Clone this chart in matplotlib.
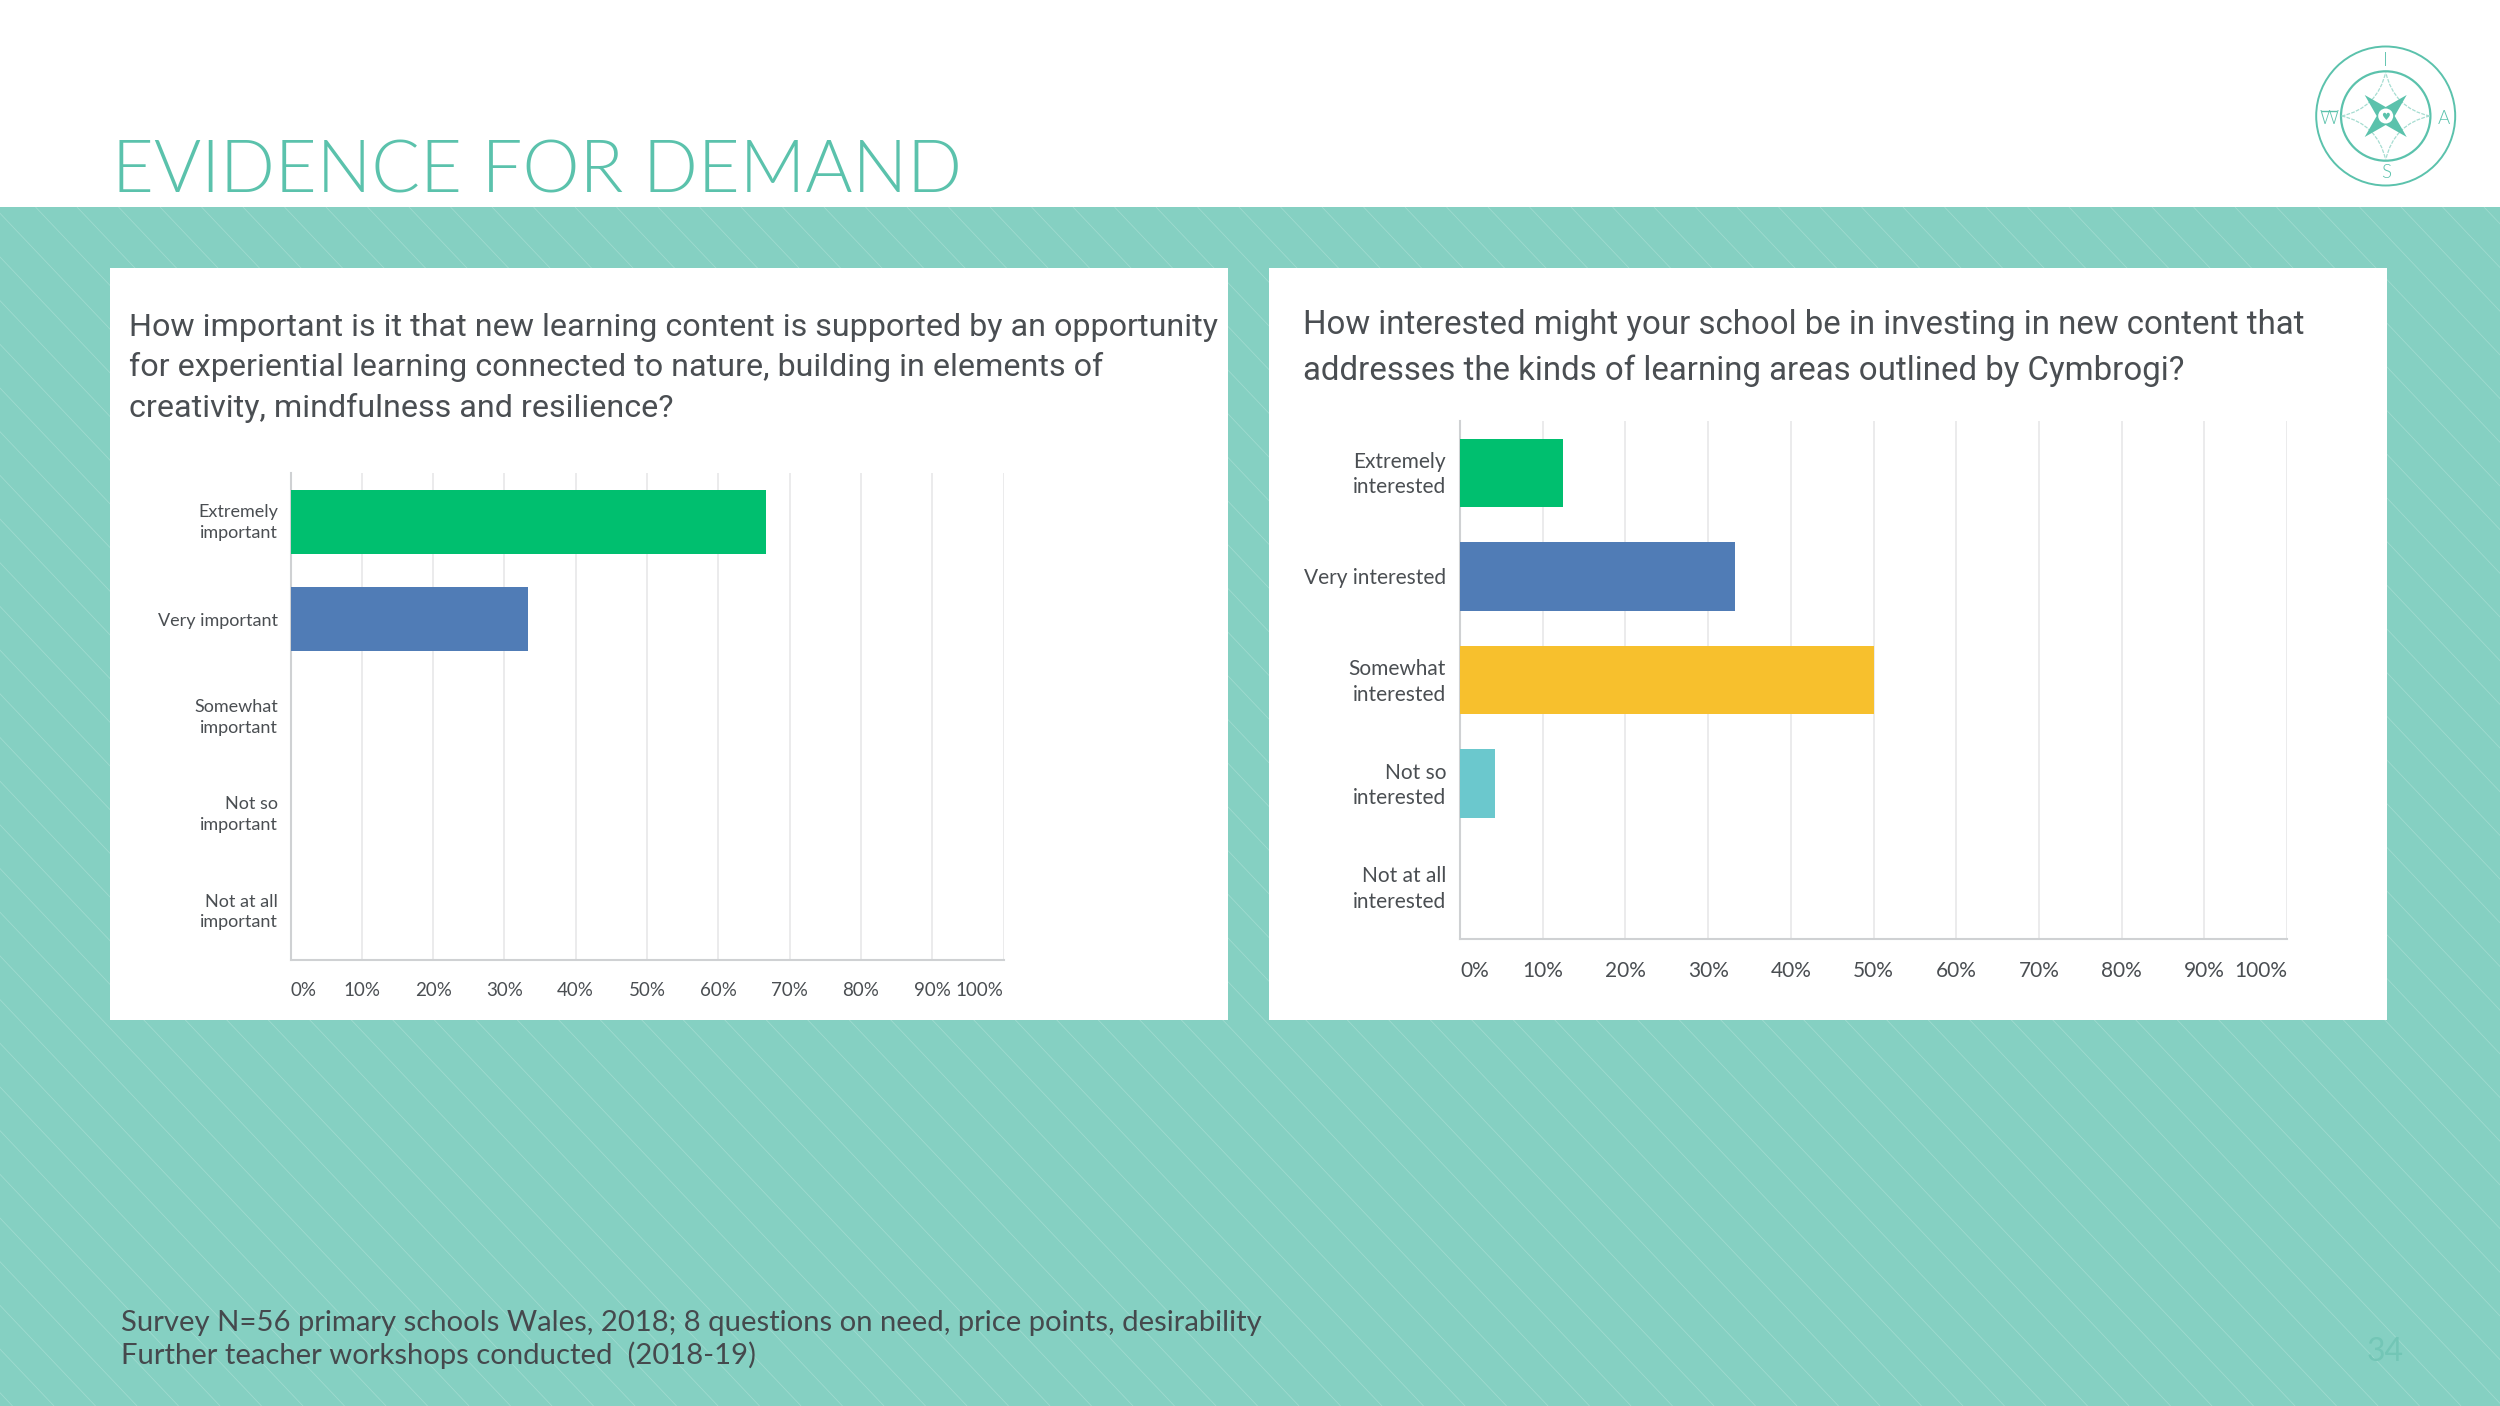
import numpy as np
import matplotlib
matplotlib.use("Agg")
import matplotlib.pyplot as plt
from matplotlib.patches import Circle, Polygon, Rectangle, PathPatch
from matplotlib.path import Path
from matplotlib.collections import LineCollection
from matplotlib.transforms import ScaledTranslation

W, H = 2500, 1406

title_text = "EVIDENCE FOR DEMAND"
footnote_lines = ["Survey N=56 primary schools Wales, 2018; 8 questions on need, price points, desirability",
                  "Further teacher workshops conducted  (2018-19)"]
page_number = "34"

question_left = ["How important is it that new learning content is supported by an opportunity",
                 "for experiential learning connected to nature, building in elements of",
                 "creativity, mindfulness and resilience?"]
question_right = ["How interested might your school be in investing in new content that",
                  "addresses the kinds of learning areas outlined by Cymbrogi?"]

labels_left = ["Extremely\nimportant", "Very important", "Somewhat\nimportant", "Not so\nimportant", "Not at all\nimportant"]
values_left = [66.7, 33.3, 0, 0, 0]
labels_right = ["Extremely\ninterested", "Very interested", "Somewhat\ninterested", "Not so\ninterested", "Not at all\ninterested"]
values_right = [12.5, 33.3, 50.0, 4.2, 0]
bar_colors = ["#00BF6F", "#507CB6", "#F7C02D", "#6BC8CD", "#AC71AE"]
pct_ticks = [0, 10, 20, 30, 40, 50, 60, 70, 80, 90, 100]

TEAL = "#85D0C2"
ACCENT = "#5BC2AC"
DARK = "#45494D"
CHART_TEXT = "#4A4E52"
QUESTION_FONT = ['Roboto', 'DejaVu Sans']

plt.rcParams['font.family'] = ['Lato', 'DejaVu Sans']

fig = plt.figure(figsize=(W / 100, H / 100), dpi=100, facecolor="white")

# page layer in pixel coordinates
bg = fig.add_axes([0, 0, 1, 1], zorder=0)
bg.set_xlim(0, W)
bg.set_ylim(H, 0)
bg.axis("off")

bg.add_patch(Rectangle((0, 207), W, H - 207, facecolor=TEAL, edgecolor="none", zorder=1))

# faint diagonal pinstripes
starts = np.arange(-1500, W, 41.5)
segs = [[(s, 207), (s + (H - 207) * 0.95, H)] for s in starts]
bg.add_collection(LineCollection(segs, colors="#9FDBCF", linewidths=0.6, zorder=2))
bg.set_xlim(0, W)
bg.set_ylim(H, 0)
bg.add_patch(Rectangle((0, 0), W, 207, facecolor="white", edgecolor="none", zorder=3))

bg.add_patch(Rectangle((110, 268), 1118, 752, facecolor="white", edgecolor="none", zorder=4))
bg.add_patch(Rectangle((1269, 268), 1118, 752, facecolor="white", edgecolor="none", zorder=4))

bg.text(112, 172, title_text, color=ACCENT, fontsize=52, fontweight=300, va="center", ha="left", zorder=5)

for i, line in enumerate(footnote_lines):
    bg.text(121, 1322.5 + i * 33, line, color=DARK, fontsize=21.05, va="center", ha="left", zorder=5)
bg.text(2385, 1352, page_number, color="#73C6B6", fontsize=23, va="center", ha="center", zorder=5)

for i, line in enumerate(question_left):
    bg.text(129, 327 + i * 40.5, line, color=CHART_TEXT, fontsize=23.2, family=QUESTION_FONT, va="center", ha="left", zorder=5)
for i, line in enumerate(question_right):
    bg.text(1303, 325 + i * 45.5, line, color=CHART_TEXT, fontsize=23.8, family=QUESTION_FONT, va="center", ha="left", zorder=5)

# compass logo
cx, cy = 2385.7, 116
bg.add_patch(Circle((cx, cy), 69.5, fill=False, edgecolor=ACCENT, linewidth=1.4, zorder=5))
bg.add_patch(Circle((cx, cy), 44.7, fill=False, edgecolor=ACCENT, linewidth=1.6, zorder=5))
star = [(21, -21), (0, -9), (-21, -21), (-9, 0), (-21, 21), (0, 9), (21, 21), (9, 0)]
bg.add_patch(Polygon([(cx + dx, cy + dy) for dx, dy in star], closed=True, facecolor=ACCENT, edgecolor="none", zorder=6))
for sx, sy in [(1, 1), (1, -1), (-1, 1), (-1, -1)]:
    # dashed curved rays between the compass points
    bg.add_patch(PathPatch(Path([(cx + sx * 44, cy), (cx + sx * 8, cy + sy * 8), (cx, cy + sy * 44)],
                                [Path.MOVETO, Path.CURVE3, Path.CURVE3]),
                           fill=False, edgecolor="#A6DDD1", linewidth=0.9, linestyle=(0, (3, 1)), zorder=5))
bg.add_patch(Circle((cx, cy), 7.5, facecolor="white", edgecolor="none", zorder=7))
bg.text(cx, cy + 0.5, "\u2665", color=ACCENT, fontsize=7, ha="center", va="center", family="DejaVu Sans", zorder=8)
for dx, dy, letter in [(0, -56, "I"), (0, 56, "S"), (-57, 2, "W"), (58, 2, "A")]:
    bg.text(cx + dx, cy + dy, letter, color=ACCENT, fontsize=13.5, fontweight=300, ha="center", va="center", zorder=6)
bg.plot([cx - 64, cx - 50], [cy - 5, cy - 5], color=ACCENT, linewidth=1, zorder=6)


def draw_chart(box, labels, values, label_size, tick_size, tick_pad, y_pad):
    x0, y0, x1, y1 = box
    ax = fig.add_axes([x0 / W, 1 - y1 / H, (x1 - x0) / W, (y1 - y0) / H], zorder=2)
    ax.patch.set_alpha(0)
    pos = np.arange(len(labels))
    ax.barh(pos, values, height=0.66, color=bar_colors[:len(labels)], zorder=3)
    ax.set_xlim(0, 100)
    ax.set_ylim(len(labels) - 0.5, -0.5)
    ax.set_xticks(pct_ticks)
    ax.set_xticklabels(["%d%%" % t for t in pct_ticks], fontsize=tick_size, color=CHART_TEXT)
    ax.set_yticks(pos)
    ax.set_yticklabels(labels, fontsize=label_size, color=CHART_TEXT, linespacing=1.35)
    ax.xaxis.grid(True, color="#E9E9EA", linewidth=1.3, zorder=0)
    ax.set_axisbelow(True)
    ax.tick_params(axis="both", length=0)
    ax.tick_params(axis="y", pad=y_pad)
    ax.tick_params(axis="x", pad=tick_pad)
    ax.get_xticklabels()[0].set_ha("left")
    ax.get_xticklabels()[-1].set_ha("right")
    # two-line labels sit slightly high in the reference
    for lab in ax.get_yticklabels():
        if "\n" in lab.get_text():
            lab.set_transform(lab.get_transform() + ScaledTranslation(0, 3 / 100, fig.dpi_scale_trans))
    for side in ["top", "right"]:
        ax.spines[side].set_visible(False)
    for side in ["left", "bottom"]:
        ax.spines[side].set_color("#CFD1D3")
        ax.spines[side].set_linewidth(1.5)
    return ax


draw_chart((290.5, 473, 1003.5, 960), labels_left, values_left, 13, 13.5, 16, 9)
draw_chart((1460, 421, 2287, 939), labels_right, values_right, 15, 15, 16, 10)

fig.savefig("out.png", dpi=100, facecolor="white")
